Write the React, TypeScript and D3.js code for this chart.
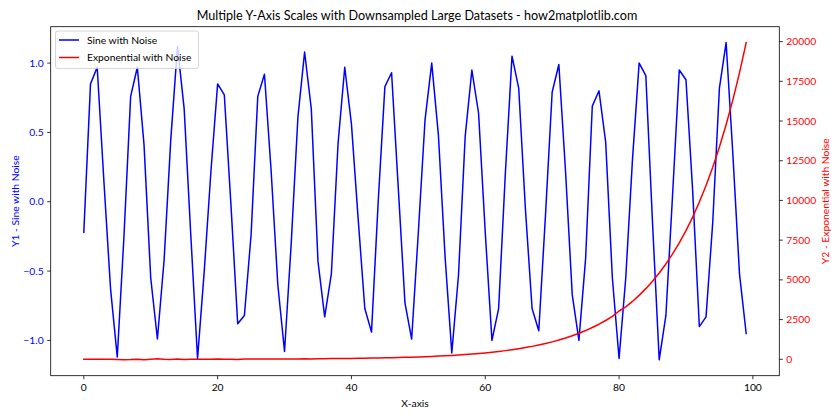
import React from "react";
import * as d3 from "d3";

const TITLE = "Multiple Y-Axis Scales with Downsampled Large Datasets - how2matplotlib.com";
const X_LABEL = "X-axis";
const Y1_LABEL = "Y1 - Sine with Noise";
const Y2_LABEL = "Y2 - Exponential with Noise";
const SERIES_NAMES = ["Sine with Noise", "Exponential with Noise"];

const xValues = d3.range(0, 100);

const sineValues = [
  -0.22, 0.85, 0.97, 0.15, -0.63, -1.12, -0.25, 0.76, 0.97, 0.41,
  -0.55, -0.99, -0.42, 0.45, 1.12, 0.67, -0.25, -1.13, -0.5, 0.22,
  0.85, 0.77, -0.03, -0.88, -0.82, -0.24, 0.76, 0.92, 0.22, -0.6,
  -1.08, -0.3, 0.61, 1.08, 0.67, -0.43, -0.83, -0.52, 0.42, 0.97,
  0.56, -0.12, -0.77, -0.94, 0.0, 0.83, 0.93, 0.1, -0.73, -0.99,
  -0.22, 0.59, 1.0, 0.48, -0.4, -1.09, -0.53, 0.47, 0.95, 0.64,
  -0.22, -1.0, -0.77, 0.2, 1.05, 0.82, -0.05, -0.77, -0.93, -0.1,
  0.79, 0.99, 0.22, -0.67, -1.0, -0.41, 0.69, 0.8, 0.43, -0.55,
  -1.13, -0.55, 0.3, 1.0, 0.91, -0.15, -1.14, -0.82, 0.05, 0.95,
  0.88, 0.08, -0.9, -0.83, -0.15, 0.82, 1.148, 0.35, -0.52, -0.95,
];

const expValues = [
  1, 3, -5, 8, 2, -15, -30, -20, 5, -35,
  8, 30, 5, -8, 10, -12, 6, 9, -3, 8,
  20, 8, 9, -6, 11, 15, 13, 15, 22, 18,
  20, 23, 25, 27, 15, 36, 37, 42, 45, 49,
  55, 60, 67, 74, 81, 95, 99, 110, 121, 134,
  148, 164, 181, 200, 221, 245, 270, 299, 330, 365,
  403, 446, 493, 545, 602, 665, 735, 812, 898, 992,
  1097, 1212, 1339, 1480, 1636, 1808, 1998, 2208, 2441, 2697,
  3040, 3295, 3641, 4024, 4447, 4915, 5432, 6003, 6634, 7332,
  8103, 8955, 9897, 10938, 12088, 13360, 14765, 16318, 18034, 19940,
];

const xTicks = [0, 20, 40, 60, 80, 100];
const y1Ticks = [-1.0, -0.5, 0.0, 0.5, 1.0];
const y2Ticks = [0, 2500, 5000, 7500, 10000, 12500, 15000, 17500, 20000];

const FONT = "Lato, 'DejaVu Sans', sans-serif";
const BLUE = "#0000ff";
const RED = "#ff0000";

function padded(ext: [number, number]): [number, number] {
  const r = ext[1] - ext[0];
  return [ext[0] - 0.05 * r, ext[1] + 0.05 * r];
}

export default function App() {
  const W = 840, H = 420;
  const L = 50.7, R = 779.3, T = 26.7, B = 375.7;

  const x = d3.scaleLinear().domain(padded(d3.extent(xValues) as [number, number])).range([L, R]);
  const y1 = d3.scaleLinear().domain(padded(d3.extent(sineValues) as [number, number])).range([B, T]);
  const y2 = d3.scaleLinear().domain(padded(d3.extent(expValues) as [number, number])).range([B, T]);

  const line1 = d3.line<number>().x((_, i) => x(xValues[i])).y((d) => y1(d));
  const line2 = d3.line<number>().x((_, i) => x(xValues[i])).y((d) => y2(d));

  const fmt1 = d3.format(".1f");

  return (
    <svg width={W} height={H} style={{ position: "absolute", left: 0, top: 0, background: "#fff" }} fontFamily={FONT}>
      <rect x={0} y={0} width={W} height={H} fill="#fff" />
      <defs>
        <clipPath id="plotclip">
          <rect x={L} y={T} width={R - L} height={B - T} />
        </clipPath>
      </defs>
      <g clipPath="url(#plotclip)">
        <path d={line1(sineValues) || ""} fill="none" stroke={BLUE} strokeWidth={1.5} strokeLinejoin="round" strokeLinecap="square" />
        <path d={line2(expValues) || ""} fill="none" stroke={RED} strokeWidth={1.5} strokeLinejoin="round" strokeLinecap="square" />
      </g>
      <rect x={L} y={T} width={R - L} height={B - T} fill="none" stroke="#000" strokeWidth={0.8} />

      {/* x axis */}
      {xTicks.map((t) => (
        <g key={"x" + t}>
          <line x1={x(t)} x2={x(t)} y1={B} y2={B + 3.5} stroke="#000" strokeWidth={0.8} />
          <text x={x(t)} y={B + 15} fontSize={10.3} textAnchor="middle" fill="#000">{t}</text>
        </g>
      ))}
      <text x={(L + R) / 2} y={B + 31} fontSize={10.3} textAnchor="middle" fill="#000">{X_LABEL}</text>

      {/* left axis */}
      {y1Ticks.map((t) => (
        <g key={"y1" + t}>
          <line x1={L - 3.5} x2={L} y1={y1(t)} y2={y1(t)} stroke="#000" strokeWidth={0.8} />
          <text x={L - 7} y={y1(t)} dy="0.35em" fontSize={10.3} textAnchor="end" fill={BLUE}>{fmt1(t).replace("-", "\u2212")}</text>
        </g>
      ))}
      <text transform={`translate(${15},${(T + B) / 2}) rotate(-90)`} fontSize={10.3} textAnchor="middle" dy="0.35em" fill={BLUE}>{Y1_LABEL}</text>

      {/* right axis */}
      {y2Ticks.map((t) => (
        <g key={"y2" + t}>
          <line x1={R} x2={R + 3.5} y1={y2(t)} y2={y2(t)} stroke="#000" strokeWidth={0.8} />
          <text x={R + 7} y={y2(t)} dy="0.35em" fontSize={10.3} textAnchor="start" fill={RED}>{t}</text>
        </g>
      ))}
      <text transform={`translate(${825},${(T + B) / 2}) rotate(-90)`} fontSize={10.3} textAnchor="middle" dy="0.35em" fill={RED}>{Y2_LABEL}</text>

      {/* title */}
      <text x={(L + R) / 2 + 2} y={T - 7} fontSize={12.6} textAnchor="middle" fill="#000">{TITLE}</text>

      {/* legend */}
      <g>
        <rect x={55.5} y={31} width={143} height={37.5} rx={2.5} fill="#fff" fillOpacity={0.8} stroke="#cccccc" strokeWidth={0.8} />
        {SERIES_NAMES.map((name, i) => (
          <g key={name}>
            <line x1={59} x2={79} y1={40 + i * 17.5} y2={40 + i * 17.5} stroke={i === 0 ? BLUE : RED} strokeWidth={1.5} />
            <text x={87} y={40 + i * 17.5} dy="0.35em" fontSize={10.3} fill="#000">{name}</text>
          </g>
        ))}
      </g>
    </svg>
  );
}
